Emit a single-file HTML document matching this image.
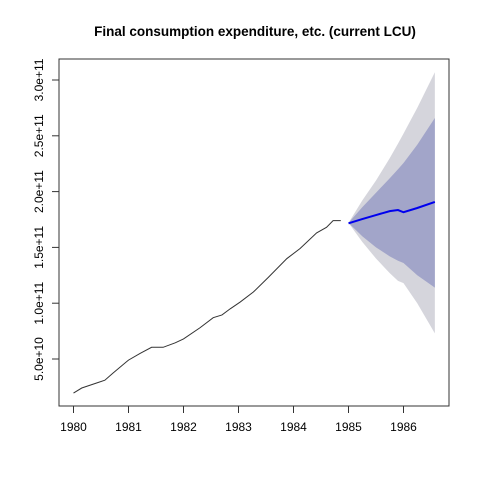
<!DOCTYPE html>
<html><head><meta charset="utf-8"><style>
body{margin:0;background:#fff}
svg{display:block;font-family:"Liberation Sans",Arial,sans-serif}
</style></head><body>
<svg id="c" width="480" height="480">
<text x="255" y="36" text-anchor="middle" font-size="13.5" font-weight="bold">Final consumption expenditure, etc. (current LCU)</text>
<g id="plot"></g>
</svg>
<script>
const histT=[1980.0,1980.15,1980.42,1980.57,1980.72,1981.0,1981.21,1981.42,1981.63,1981.85,1982.0,1982.3,1982.54,1982.7,1982.85,1983.03,1983.27,1983.54,1983.88,1984.12,1984.42,1984.6,1984.72,1984.86];
const histV=[1.95e10,2.4e10,2.85e10,3.1e10,3.75e10,4.9e10,5.5e10,6.05e10,6.05e10,6.45e10,6.8e10,7.8e10,8.7e10,8.95e10,9.5e10,1.01e11,1.1e11,1.23e11,1.4e11,1.49e11,1.63e11,1.68e11,1.74e11,1.74e11];
const fcT=[1985.0,1985.25,1985.5,1985.75,1985.9,1986.0,1986.25,1986.57];
const fcMean=[1.716e11,1.754e11,1.79e11,1.825e11,1.835e11,1.815e11,1.853e11,1.907e11];
const up80=[1.72e11,1.86e11,1.99e11,2.12e11,2.2e11,2.256e11,2.42e11,2.66e11];
const up95=[1.72e11,1.92e11,2.1e11,2.3e11,2.43e11,2.52e11,2.75e11,3.07e11];
const lo80=[1.72e11,1.6e11,1.5e11,1.42e11,1.38e11,1.36e11,1.25e11,1.14e11];
const lo95=[1.72e11,1.55e11,1.4e11,1.27e11,1.2e11,1.18e11,1.0e11,0.73e11];
const xTicks=[1980,1981,1982,1983,1984,1985,1986];
const yTicks=[5e10,1e11,1.5e11,2e11,2.5e11,3e11];
const yLabels=["5.0e+10","1.0e+11","1.5e+11","2.0e+11","2.5e+11","3.0e+11"];

const NS="http://www.w3.org/2000/svg";
const g=document.getElementById('plot');
const X=t=>73.5+(t-1980)*55;
const Y=v=>359-(v-5e10)*111.6e-11;
function mk(tag,attrs){const e=document.createElementNS(NS,tag);for(const k in attrs)e.setAttribute(k,attrs[k]);g.appendChild(e);return e;}
function band(up,lo){let p=fcT.map((t,i)=>X(t)+','+Y(up[i]));for(let i=fcT.length-1;i>=0;i--)p.push(X(fcT[i])+','+Y(lo[i]));return p.join(' ');}
let e;
e=mk('polygon',{points:band(up95,lo95),fill:'#d5d5dc'});


e=mk('polygon',{points:band(up80,lo80),fill:'#a2a5c9'});


e=mk('polyline',{points:histT.map((t,i)=>X(t)+','+Y(histV[i])).join(' '),fill:'none',stroke:'#333',"stroke-width":1});


e=mk('polyline',{points:fcT.map((t,i)=>X(t)+','+Y(fcMean[i])).join(' '),fill:'none',stroke:'#0000ee',"stroke-width":2});


e=mk('rect',{x:59,y:59,width:390,height:347,fill:'none',stroke:'#333',"stroke-width":1});


xTicks.forEach(t=>{
  e=mk('line',{x1:X(t),x2:X(t),y1:406,y2:413,stroke:'#333'});
  
  
  e=mk('text',{x:X(t),y:431,"text-anchor":"middle","font-size":12});
  e.textContent=t;
  
  
});
yTicks.forEach((v,i)=>{
  e=mk('line',{x1:52,x2:59,y1:Y(v),y2:Y(v),stroke:'#333'});
  
  
  e=mk('text',{x:0,y:0,"text-anchor":"middle","font-size":12,transform:`translate(43,${Y(v)}) rotate(-90)`});
  e.textContent=yLabels[i];
  
  
});
</script>
</body></html>
